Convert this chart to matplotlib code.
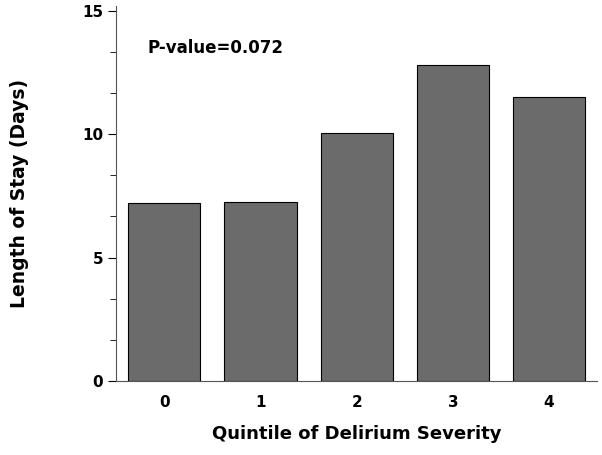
import matplotlib
matplotlib.use("Agg")
import matplotlib.pyplot as plt
from matplotlib.ticker import MultipleLocator

# Data
quintiles = ["0", "1", "2", "3", "4"]
los_days = [7.2, 7.25, 10.05, 12.8, 11.5]
p_label = "P-value=0.072"

plt.rcParams["font.family"] = ["DejaVu Sans"]

fig = plt.figure(figsize=(6.02, 4.55), dpi=100)
ax = fig.add_axes([0.193, 0.163, 0.799, 0.824])

x = range(len(quintiles))
ax.bar(x, los_days, width=0.75, color="#6b6b6b", edgecolor="black", linewidth=0.8)

ax.set_xlim(-0.5, 4.5)
ax.set_ylim(0, 15.2)
ax.set_xticks(list(x))
ax.set_xticklabels(quintiles, fontsize=11, fontweight="bold")
ax.set_yticks([0, 5, 10, 15])
ax.set_yticklabels(["0", "5", "10", "15"], fontsize=11, fontweight="bold")
ax.yaxis.set_minor_locator(MultipleLocator(5 / 3))
ax.tick_params(axis="x", length=0, pad=10)
ax.tick_params(axis="y", which="major", length=6, width=0.8)
ax.tick_params(axis="y", which="minor", length=4, width=0.6)

for side in ("top", "right"):
    ax.spines[side].set_visible(False)
ax.spines["left"].set_color("#555555")
ax.spines["bottom"].set_color("#555555")

ax.set_xlabel("Quintile of Delirium Severity", fontsize=13, fontweight="bold", labelpad=11)
ax.set_ylabel("Length of Stay (Days)", fontsize=13.5, fontweight="bold", labelpad=38)

ax.text(-0.17, 13.5, p_label, fontsize=12, fontweight="bold", va="center", ha="left")

fig.savefig("out.png", dpi=100)
